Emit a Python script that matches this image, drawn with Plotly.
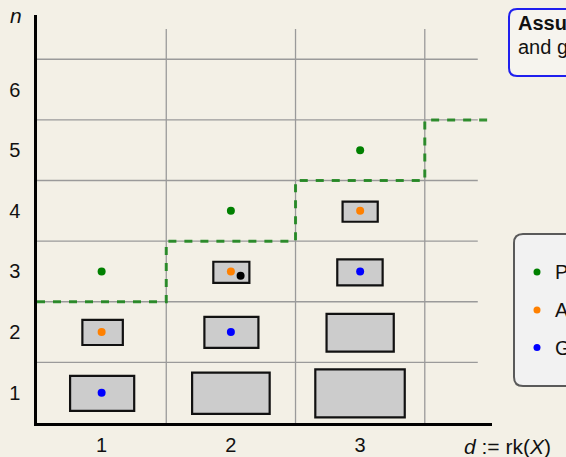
import plotly.graph_objects as go

# ---- data -------------------------------------------------------------
rank_labels = ["1", "2", "3"]            # d := rk(X), columns centred at d - 0.5
n_labels = ["1", "2", "3", "4", "5", "6"]  # rows centred at n - 0.5

# point families per column (x = column centre, y = row centre)
green_x = [0.5, 1.5, 2.5]
green_y = [2.5, 3.5, 4.5]
orange_x = [0.5, 1.5, 2.5]
orange_y = [1.5, 2.5, 3.5]
blue_x = [0.5, 1.5, 2.5]
blue_y = [0.5, 1.5, 2.5]
black_x = [1.575]
black_y = [2.43]

# staircase boundary n = d + 1
step_x = [0, 1, 1, 2, 2, 3, 3, 3.5]
step_y = [2, 2, 3, 3, 4, 4, 5, 5]

# grey boxes (data units)
box_x0 = [0.256, 0.351, 1.200, 1.295, 1.364, 2.153, 2.240, 2.323, 2.364]
box_x1 = [0.752, 0.664, 1.800, 1.713, 1.643, 2.845, 2.760, 2.674, 2.636]
box_y0 = [0.200, 1.287, 0.150, 1.240, 2.310, 0.094, 1.177, 2.270, 3.320]
box_y1 = [0.776, 1.700, 0.830, 1.750, 2.660, 0.886, 1.800, 2.700, 3.650]

legend_labels = ["Parameter count", "Attained", "Generic"]
legend_colors = ["#008000", "#ff8000", "#0000ff"]

# ---- layout geometry (pixels) ----------------------------------------
W, H = 566, 457
L, R, T, B = 37, 492, 15, 423
X_MAX = 3.52
Y_MAX = 6.73
BG = "#f3f0e6"
FONT = "Liberation Sans, Arial, Helvetica, sans-serif"


def px(x):
    return (x - L) / (R - L)


def py(y):
    return (B - y) / (B - T)


def rounded_rect(x0, y0, x1, y1, r):
    a0, a1 = px(x0), px(x1)
    b0, b1 = py(y0), py(y1)
    rx = r / (R - L)
    ry = r / (B - T)
    return (f"M{a0 + rx},{b0} L{a1 - rx},{b0} Q{a1},{b0} {a1},{b0 - ry} "
            f"L{a1},{b1 + ry} Q{a1},{b1} {a1 - rx},{b1} L{a0 + rx},{b1} "
            f"Q{a0},{b1} {a0},{b1 + ry} L{a0},{b0 - ry} Q{a0},{b0} {a0 + rx},{b0} Z")


def label(x, y, text, size=20, xanchor="center"):
    return dict(xref="paper", yref="paper", x=px(x), y=py(y), text=text,
                xanchor=xanchor, yanchor="middle", showarrow=False,
                font=dict(size=size, color="#111", family=FONT))


fig = go.Figure()

shapes = []
# grid
for gy in range(1, 7):
    shapes.append(dict(type="line", xref="x", yref="y", x0=0, x1=3.41, y0=gy, y1=gy,
                       line=dict(color="#9a9a9a", width=1.3), layer="below"))
for gx in range(1, 4):
    shapes.append(dict(type="line", xref="x", yref="y", x0=gx, x1=gx, y0=0, y1=6.5,
                       line=dict(color="#9a9a9a", width=1.3), layer="below"))
# boxes (under the point markers)
for x0, x1, y0, y1 in zip(box_x0, box_x1, box_y0, box_y1):
    shapes.append(dict(type="rect", xref="x", yref="y", x0=x0, x1=x1, y0=y0, y1=y1,
                       fillcolor="#cccccc", line=dict(color="#111111", width=2.2),
                       layer="between"))

# note box (top right)
shapes.append(dict(type="path", xref="paper", yref="paper",
                   path=rounded_rect(509, 9, 640, 76, 8),
                   fillcolor="#f6f4ee", line=dict(color="#1f1fee", width=2)))
# legend box
shapes.append(dict(type="path", xref="paper", yref="paper",
                   path=rounded_rect(514, 234, 640, 386, 9),
                   fillcolor="#f2f2f2", line=dict(color="#5a5a5a", width=2)))
for yy, col in zip([272, 310, 347.5], legend_colors):
    shapes.append(dict(type="circle", xref="paper", yref="paper",
                       x0=px(533.5), x1=px(540.5), y0=py(yy + 3.5), y1=py(yy - 3.5),
                       fillcolor=col, line=dict(width=0)))

fig.add_trace(go.Scatter(x=step_x, y=step_y, mode="lines",
                         line=dict(color="rgba(20,130,20,0.85)", width=3, dash="8px,8px"),
                         hoverinfo="skip"))

for xs, ys, col in [(green_x, green_y, "#008000"), (orange_x, orange_y, "#ff8000"),
                    (blue_x, blue_y, "#0000ff"), (black_x, black_y, "#000000")]:
    fig.add_trace(go.Scatter(x=xs, y=ys, mode="markers",
                             marker=dict(color=col, size=8, line=dict(width=0))))

annotations = [
    label(16, 16, "<i>n</i>", size=21),
    label(462, 446, "<i>d</i>&nbsp;:=&nbsp;rk(<i>X</i>)", size=21, xanchor="left"),
    label(516, 23, "<b>Assumption:</b> X generic", xanchor="left"),
    label(516, 47, "and generic noise", xanchor="left"),
]
for yy, lab in zip([272, 310, 347.5], legend_labels):
    annotations.append(label(553, yy, lab, xanchor="left"))

fig.update_layout(
    width=W, height=H,
    margin=dict(l=L, r=W - R, t=T, b=H - B, autoexpand=False),
    paper_bgcolor=BG, plot_bgcolor=BG,
    showlegend=False,
    shapes=shapes,
    annotations=annotations,
    font=dict(family=FONT, size=20, color="#111"),
    xaxis=dict(range=[0, X_MAX], showgrid=False, zeroline=False, automargin=False,
               tickvals=[0.5, 1.5, 2.5], ticktext=rank_labels, ticks="",
               tickfont=dict(size=20, color="#111"),
               showline=True, linecolor="#000", linewidth=2.5,
               ticklabelstandoff=2, fixedrange=True),
    yaxis=dict(range=[0, Y_MAX], showgrid=False, zeroline=False, automargin=False,
               tickvals=[0.5, 1.5, 2.5, 3.5, 4.5, 5.5], ticktext=n_labels, ticks="",
               tickfont=dict(size=20, color="#111"),
               showline=True, linecolor="#000", linewidth=2.5,
               ticklabelstandoff=10, fixedrange=True),
)

fig.write_html("out.html")
